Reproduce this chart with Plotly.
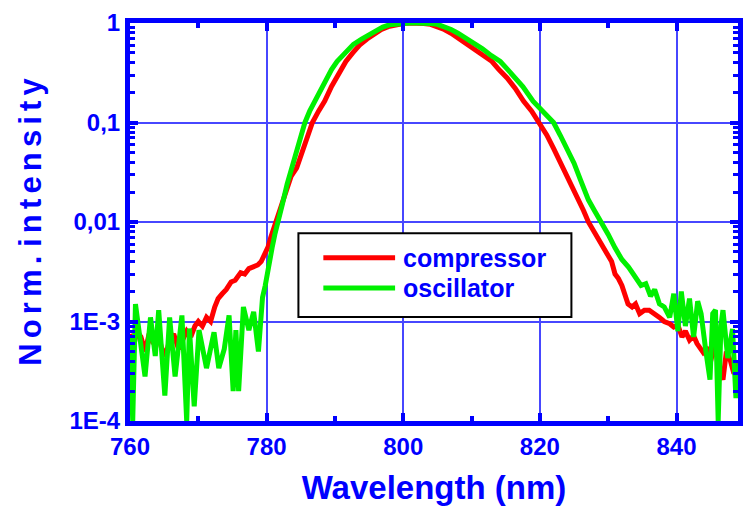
import plotly.graph_objects as go

# ---------------- data ----------------
series_names = ["compressor", "oscillator"]

x_compressor = [760.0, 760.5, 761.0, 761.6, 762.2, 762.8, 763.4, 764.0, 764.6, 765.2,
                765.8, 766.4, 767.1, 767.7, 768.3, 768.9, 769.5, 770.0, 770.6, 771.2,
                771.8, 772.4, 772.9, 773.5, 774.1, 774.8, 775.4, 776.2, 776.8, 777.4,
                778.1, 778.7, 779.2, 779.7, 780.2, 780.6, 781.0, 781.5, 782.0, 782.4,
                783.0, 783.6, 784.4, 785.5, 786.7, 787.6, 788.5, 789.5, 790.5, 791.6,
                792.6, 793.6, 794.7, 795.8, 796.8, 797.8, 798.8, 800.0, 801.0, 802.0,
                803.0, 804.0, 805.0, 806.0, 807.0, 808.3, 809.5, 810.7, 812.0, 813.0,
                814.0, 815.2, 816.4, 817.6, 818.8, 819.9, 821.0, 822.0, 823.0, 824.0,
                824.9, 825.7, 826.4, 827.1, 828.0, 829.0, 829.8, 830.5, 831.0, 831.5,
                832.0, 832.5, 832.9, 833.5, 834.0, 834.6, 835.3, 836.0, 836.8, 837.5,
                838.2, 839.0, 839.6, 840.2, 840.8, 841.3, 841.9, 842.5, 843.0, 843.9,
                844.5, 845.0, 845.6, 846.2, 846.8, 847.3, 847.9, 848.4, 849.3]
y_compressor = [7.5e-4, 5.5e-4, 8.0e-4, 7.0e-4, 5.0e-4, 7.5e-4, 6.0e-4, 8.0e-4, 5.5e-4, 4.5e-4,
                6.5e-4, 7.5e-4, 5.3e-4, 6.5e-4, 8.0e-4, 7.0e-4, 9.0e-4, 1.0e-3, 9.0e-4, 1.1e-3,
                1.0e-3, 1.4e-3, 1.7e-3, 1.9e-3, 2.1e-3, 2.5e-3, 2.6e-3, 3.1e-3, 3.0e-3, 3.4e-3,
                3.6e-3, 3.7e-3, 4.0e-3, 4.6e-3, 5.6e-3, 7.0e-3, 8.5e-3, 0.011, 0.014, 0.0165,
                0.022, 0.029, 0.035, 0.060, 0.10, 0.13, 0.164, 0.23, 0.31, 0.41,
                0.50, 0.60, 0.69, 0.78, 0.86, 0.92, 0.96, 0.99, 1.0, 1.0,
                0.99, 0.97, 0.92, 0.86, 0.79, 0.69, 0.60, 0.53, 0.46, 0.41,
                0.34, 0.28, 0.22, 0.164, 0.13, 0.10, 0.075, 0.055, 0.040, 0.029,
                0.021, 0.0167, 0.013, 0.010, 0.0078, 0.0060, 0.0048, 0.0040, 0.0030, 0.0027,
                0.0023, 0.0018, 0.0015, 0.0014, 0.0015, 0.0012, 0.0013, 0.0013, 0.0012, 0.0011,
                0.0010, 9.5e-4, 8.8e-4, 9.2e-4, 7.0e-4, 8.0e-4, 6.5e-4, 7.2e-4, 6.0e-4, 4.9e-4,
                5.5e-4, 4.0e-4, 6.0e-4, 3.5e-4, 2.6e-4, 5.0e-4, 4.0e-4, 3.0e-4, 4.0e-4]

x_oscillator = [760.0, 760.4, 760.8, 761.5, 762.2, 763.0, 763.7, 764.2, 765.1, 765.8,
                766.6, 767.6, 768.3, 768.7, 769.4, 770.1, 771.2, 772.3, 773.0, 773.8,
                774.5, 775.1, 775.5, 775.9, 776.6, 777.4, 778.1, 778.8, 779.4, 779.8,
                780.2, 780.8, 781.2, 781.7, 782.3, 783.0, 783.7, 784.4, 785.0, 785.6,
                786.3, 787.0, 787.8, 788.6, 789.5, 790.3, 791.5, 792.7, 793.9, 795.0,
                796.0, 797.0, 798.0, 799.0, 800.0, 801.0, 802.0, 803.0, 804.0, 805.0,
                806.0, 807.0, 808.0, 809.4, 810.5, 811.6, 812.9, 814.2, 815.3, 816.4,
                817.5, 819.0, 820.5, 822.0, 823.0, 824.0, 825.0, 825.9, 827.1, 828.0,
                829.0, 830.0, 831.0, 832.0, 833.0, 834.0, 834.8, 835.5, 836.2, 836.8,
                837.5, 838.2, 839.0, 839.6, 840.2, 840.7, 841.3, 841.9, 842.5, 843.1,
                843.6, 844.3, 844.9, 845.3, 845.7, 846.1, 846.5, 846.8, 847.5, 848.2,
                848.7, 849.3]
y_oscillator = [7.0e-4, 1.0e-4, 1.5e-3, 6.0e-4, 2.8e-4, 1.1e-3, 4.5e-4, 1.3e-3, 1.8e-4, 1.1e-3,
                2.8e-4, 1.15e-3, 1.0e-4, 8.5e-4, 1.4e-4, 8.2e-4, 3.4e-4, 7.8e-4, 3.4e-4, 5.3e-4,
                1.15e-3, 2.0e-4, 8.2e-4, 2.0e-4, 1.4e-3, 8.2e-4, 1.25e-3, 5.0e-4, 1.75e-3, 2.3e-3,
                3.5e-3, 5.5e-3, 7.5e-3, 0.010, 0.015, 0.024, 0.035, 0.052, 0.072, 0.10,
                0.13, 0.16, 0.21, 0.27, 0.34, 0.41, 0.51, 0.61, 0.69, 0.77,
                0.84, 0.91, 0.96, 0.98, 0.99, 1.0, 1.0, 1.0, 0.99, 0.97,
                0.92, 0.86, 0.79, 0.69, 0.61, 0.55, 0.47, 0.41, 0.34, 0.28,
                0.23, 0.164, 0.13, 0.10, 0.074, 0.054, 0.039, 0.027, 0.0167, 0.013,
                0.010, 0.0075, 0.0055, 0.0042, 0.0035, 0.0027, 0.0023, 0.0024, 0.0018, 0.0021,
                0.0015, 0.0014, 0.0011, 0.0019, 8.0e-4, 0.0020, 9.0e-4, 0.0017, 7.0e-4, 0.0016,
                0.0012, 5.0e-4, 2.6e-4, 0.0012, 0.0013, 1.0e-4, 9.0e-4, 0.0013, 4.3e-4, 8.4e-4,
                1.7e-4, 4.0e-4]

x_tickvals = [760, 780, 800, 820, 840]
x_minor_tickvals = [770, 790, 810, 830, 850]
y_tickvals = [1e-4, 1e-3, 1e-2, 1e-1, 1]
y_ticktext = ["1E-4", "1E-3", "0,01", "0,1", "1"]

# ---------------- style ----------------
BLUE = "#0000ff"
GRID = "#4747ff"
series_colors = ["#ff0000", "#00f000"]
FONT = "Liberation Sans, Arial, sans-serif"

y_minor_tickvals = [m * d for d in [1e-4, 1e-3, 1e-2, 1e-1] for m in range(2, 10)]

fig = go.Figure()
for xs, ys, name, col in [(x_compressor, y_compressor, series_names[0], series_colors[0]),
                          (x_oscillator, y_oscillator, series_names[1], series_colors[1])]:
    fig.add_trace(go.Scatter(x=xs, y=ys, mode="lines", name=name,
                             line=dict(color=col, width=5), showlegend=False))

def spaced(t):
    return "\u2006".join(t)

fig.update_layout(
    width=743, height=508,
    margin=dict(l=130, r=0, t=23, b=87),
    paper_bgcolor="white", plot_bgcolor="white",
    font=dict(family=FONT, color=BLUE),
    xaxis=dict(
        range=[760, 849], tickmode="array", tickvals=x_tickvals,
        ticks="inside", ticklen=8, tickwidth=4, tickcolor=BLUE,
        showline=True, linewidth=5, linecolor=BLUE, mirror="ticks",
        showgrid=True, gridcolor=GRID, gridwidth=1.5, zeroline=False,
        tickfont=dict(size=24, color=BLUE, family=FONT, weight="bold"),
        minor=dict(tickmode="array", tickvals=x_minor_tickvals, ticks="inside",
                   ticklen=5, tickwidth=4, tickcolor=BLUE, showgrid=False),
        title=dict(text="Wavelength (nm)", standoff=19,
                   font=dict(size=33, color=BLUE, family=FONT, weight="bold")),
    ),
    yaxis=dict(
        type="log", range=[-4, 0], tickmode="array", tickvals=y_tickvals, ticktext=y_ticktext,
        ticks="inside", ticklen=8, tickwidth=4, tickcolor=BLUE,
        showline=True, linewidth=5, linecolor=BLUE, mirror="ticks",
        showgrid=True, gridcolor=GRID, gridwidth=1.5, zeroline=False,
        tickfont=dict(size=24, color=BLUE, family=FONT, weight="bold"),
        minor=dict(tickmode="array", tickvals=y_minor_tickvals, ticks="inside",
                   ticklen=5, tickwidth=3, tickcolor=BLUE, showgrid=False),
        title=dict(text=spaced("Norm.") + " " + spaced("intensity"), standoff=20,
                   font=dict(size=31, color=BLUE, family=FONT, weight="bold")),
    ),
)

# legend box drawn in plot-area (paper) coordinates
fig.add_shape(type="rect", xref="paper", yref="paper", x0=0.277, x1=0.726, y0=0.261, y1=0.472,
              line=dict(color="black", width=2), fillcolor="white", layer="above")
rows_y = [0.410, 0.334]
for name, col, ry in zip(series_names, series_colors, rows_y):
    fig.add_shape(type="line", xref="paper", yref="paper", x0=0.318, x1=0.436, y0=ry, y1=ry,
                  line=dict(color=col, width=5), layer="above")
    fig.add_annotation(xref="paper", yref="paper", x=0.445, y=ry, text=name, showarrow=False,
                       xanchor="left", yanchor="middle",
                       font=dict(size=25, color=BLUE, family=FONT, weight="bold"))

fig.write_html("out.html")
